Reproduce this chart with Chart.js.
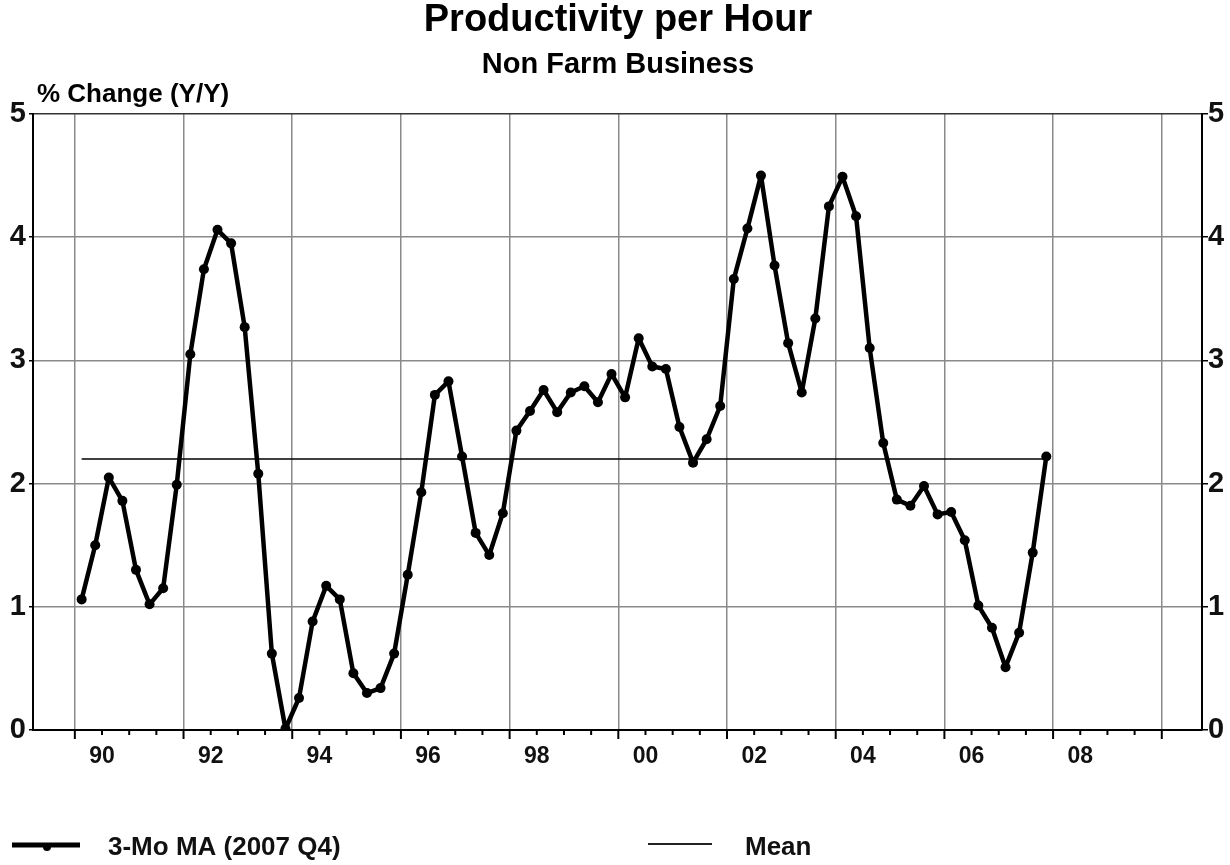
<!DOCTYPE html>
<html lang="en">

<head>
    <meta charset="UTF-8">
    <script src="https://cdn.jsdelivr.net/npm/chart.js"></script>
    <title>Productivity per Hour</title>
    <style>
        body {
            margin: 0;
            background: #fff;
        }

        .grafico {
            position: relative;
            width: 1230px;
            height: 865px;
        }
    </style>
</head>

<body>
    <div class="grafico">
        <canvas id="myChart"></canvas>
    </div>
</body>

<script>

    // dados (trimestral, 1990 Q1 ate 2007 Q4)
    const anos = [1990, 1991, 1992, 1993, 1994, 1995, 1996, 1997, 1998,
        1999, 2000, 2001, 2002, 2003, 2004, 2005, 2006, 2007];

    const produtividade = [
        1.06, 1.50, 2.05, 1.86, 1.30, 1.02, 1.15, 1.99,
        3.05, 3.74, 4.06, 3.95, 3.27, 2.08, 0.62, 0.01,
        0.26, 0.88, 1.17, 1.06, 0.46, 0.30, 0.34, 0.62,
        1.26, 1.93, 2.72, 2.83, 2.22, 1.60, 1.42, 1.76,
        2.43, 2.59, 2.76, 2.58, 2.74, 2.79, 2.66, 2.89,
        2.70, 3.18, 2.95, 2.93, 2.46, 2.17, 2.36, 2.63,
        3.66, 4.07, 4.50, 3.77, 3.14, 2.74, 3.34, 4.25,
        4.49, 4.17, 3.10, 2.33, 1.87, 1.82, 1.98, 1.75,
        1.77, 1.54, 1.01, 0.83, 0.51, 0.79, 1.44, 2.22
    ];

    const media = 2.20;

    const yTicks = [0, 1, 2, 3, 4, 5];
    const xLabels = ['90', '92', '94', '96', '98', '00', '02', '04', '06', '08'];

    // cada trimestre fica no meio do seu intervalo
    const pontos = [];
    anos.forEach(function (ano, i) {
        for (let q = 0; q < 4; q++) {
            pontos.push({ x: ano + (q + 0.5) / 4, y: produtividade[i * 4 + q] });
        }
    });

    const linhaMedia = [
        { x: pontos[0].x, y: media },
        { x: pontos[pontos.length - 1].x, y: media }
    ];

    const fonte = '"Liberation Sans", Arial, sans-serif';

    // textos, legenda e marcas do eixo x
    const extras = {
        id: 'extras',
        afterDraw(chart) {
            const ctx = chart.ctx;
            const x = chart.scales.x;
            const area = chart.chartArea;
            ctx.save();

            // marcas do eixo x (meio ano)
            ctx.strokeStyle = '#000';
            ctx.lineWidth = 2;
            for (let v = 1990; v <= 2010; v += 0.5) {
                const px = x.getPixelForValue(v);
                const len = (v % 2 === 0) ? 9 : 5;
                ctx.beginPath();
                ctx.moveTo(px, area.bottom);
                ctx.lineTo(px, area.bottom + len);
                ctx.stroke();
            }

            ctx.fillStyle = '#000';
            ctx.textAlign = 'center';
            ctx.textBaseline = 'middle';
            ctx.font = 'bold 38px ' + fonte;
            ctx.fillText('Productivity per Hour', 618, 21);
            ctx.font = 'bold 29px ' + fonte;
            ctx.fillText('Non Farm Business', 618, 65);

            ctx.textAlign = 'left';
            ctx.font = 'bold 26px ' + fonte;
            ctx.fillText('% Change (Y/Y)', 37, 95);

            // legenda
            ctx.lineWidth = 5;
            ctx.beginPath();
            ctx.moveTo(12, 845);
            ctx.lineTo(80, 845);
            ctx.stroke();
            ctx.beginPath();
            ctx.arc(47, 847, 4, 0, Math.PI * 2);
            ctx.fill();
            ctx.lineWidth = 2;
            ctx.strokeStyle = '#222';
            ctx.beginPath();
            ctx.moveTo(648, 844);
            ctx.lineTo(712, 844);
            ctx.stroke();
            ctx.fillStyle = '#111';
            ctx.font = 'bold 26px ' + fonte;
            ctx.fillText('3-Mo MA (2007 Q4)', 108, 848);
            ctx.fillText('Mean', 745, 848);

            ctx.restore();
        }
    };

    const data = {
        datasets: [{
            label: '3-Mo MA (2007 Q4)',
            data: pontos,
            borderColor: '#000',
            backgroundColor: '#000',
            borderWidth: 4.5,
            borderJoinStyle: 'round',
            borderCapStyle: 'round',
            pointRadius: 5,
            pointBackgroundColor: '#000',
            pointBorderWidth: 0,
            tension: 0,
            order: 1
        }, {
            label: 'Mean',
            data: linhaMedia,
            borderColor: '#000',
            borderWidth: 1.5,
            pointRadius: 0,
            order: 2
        }]
    };

    const config = {
        type: 'line',
        data: data,
        plugins: [extras],
        options: {
            responsive: true,
            maintainAspectRatio: false,
            animation: false,
            layout: {
                padding: { top: 114, left: 0, right: 0, bottom: 0 }
            },
            plugins: {
                legend: { display: false },
                title: { display: false },
                tooltip: { enabled: false }
            },
            scales: {
                x: {
                    type: 'linear',
                    min: 1989.23,
                    max: 2010.74,
                    afterFit(scale) { scale.height = 135; },
                    afterBuildTicks(scale) {
                        const t = [];
                        for (let v = 1990; v <= 2010; v += 0.5) t.push({ value: v });
                        scale.ticks = t;
                    },
                    border: { color: '#000', width: 2 },
                    grid: {
                        drawTicks: false,
                        lineWidth: 1.5,
                        color: function (c) {
                            const v = c.tick && c.tick.value;
                            return (v % 2 === 0) ? '#8a8a8a' : 'rgba(0,0,0,0)';
                        }
                    },
                    ticks: {
                        autoSkip: false,
                        maxRotation: 0,
                        padding: 13,
                        color: '#111',
                        font: { family: fonte, size: 23, weight: 'bold' },
                        callback: function (v) {
                            const i = (v - 1990.5) / 2;
                            return Number.isInteger(i) && xLabels[i] ? xLabels[i] : '';
                        }
                    }
                },
                y: {
                    position: 'left',
                    min: 0,
                    max: 5,
                    afterFit(scale) { scale.width = 33; },
                    afterBuildTicks(scale) {
                        scale.ticks = yTicks.map(v => ({ value: v }));
                    },
                    border: { color: '#000', width: 2 },
                    grid: {
                        lineWidth: 1.5,
                        tickLength: 4,
                        tickColor: '#000',
                        color: function (c) {
                            const v = c.tick && c.tick.value;
                            if (v === 5) return '#333';
                            if (v === 0) return '#000';
                            return '#8a8a8a';
                        }
                    },
                    ticks: {
                        padding: 3,
                        color: '#111',
                        font: { family: fonte, size: 29, weight: 'bold' }
                    }
                },
                y2: {
                    position: 'right',
                    min: 0,
                    max: 5,
                    afterFit(scale) { scale.width = 28; },
                    afterBuildTicks(scale) {
                        scale.ticks = yTicks.map(v => ({ value: v }));
                    },
                    border: { color: '#000', width: 2 },
                    grid: {
                        drawOnChartArea: false,
                        tickLength: 6,
                        tickColor: '#000',
                        lineWidth: 1.5
                    },
                    ticks: {
                        padding: 0,
                        color: '#111',
                        font: { family: fonte, size: 29, weight: 'bold' }
                    }
                }
            }
        }
    };

</script>

<script>
    const myChart = new Chart(
        document.getElementById('myChart'),
        config
    );
</script>

</html>
